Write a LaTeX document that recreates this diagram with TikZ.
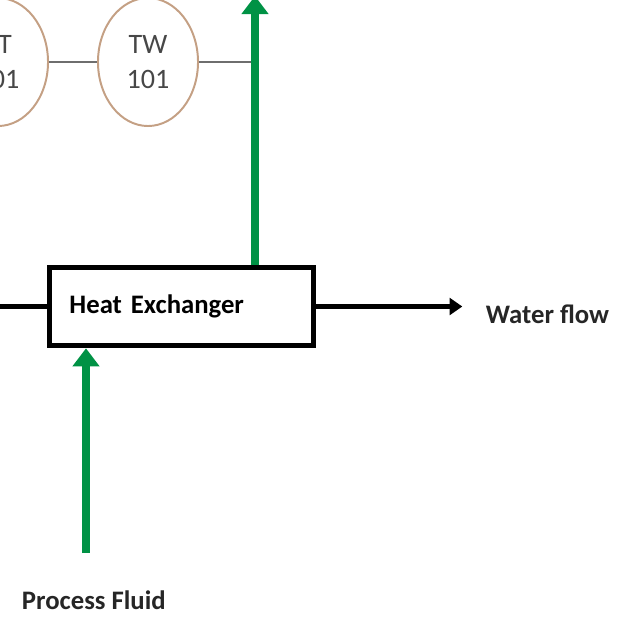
\documentclass[tikz,border=0pt]{standalone}
\usepackage{fontspec}
\setmainfont{Carlito}
\usepackage{xcolor}
\usepackage{tikz}
\usetikzlibrary{arrows.meta,positioning,calc,shapes.geometric}
\definecolor{flowgreen}{RGB}{0,146,69}
\definecolor{ringbrown}{RGB}{196,160,132}
\definecolor{pipegray}{RGB}{110,110,110}

\begin{document}
\begin{tikzpicture}[x=0.025cm, y=-0.025cm, font=\fontsize{19}{23}\selectfont]
\useasboundingbox (0,0) rectangle (640,640);
\clip (0,0) rectangle (640,640);
\tikzset{
  instr/.style={ellipse, draw=ringbrown, line width=1.4pt, minimum width=2.5cm, minimum height=3.2cm, align=center, text=black!72, font=\fontsize{20}{25}\selectfont},
  hxbox/.style={rectangle, draw=black, line width=4pt, minimum width=6.6cm, minimum height=1.95cm, text width=5.6cm, inner xsep=0.5cm, align=left, font=\bfseries\fontsize{19}{23}\selectfont},
  flowlbl/.style={font=\bfseries\fontsize{19}{23}\selectfont, text=black!85},
  flow/.style={draw=flowgreen, line width=5pt, -{Triangle[length=0.45cm, width=0.65cm]}},
  pipe/.style={draw=black, line width=3pt},
  signal/.style={draw=pipegray, line width=2pt}
}
\node[instr] (tt) at (-2,62) {TT\\101};
\node[instr] (tw) at (148,62) {TW\\101};
\node[hxbox] (hx) at (181.5,306.5) {Heat Exchanger};
\node[flowlbl, anchor=west] (water) at (481,314) {Water flow};
\node[flowlbl, anchor=west] (fluid) at (17,600) {Process Fluid};
\coordinate (topout) at (255,-4);
\coordinate (leftin) at (-5,306.5);
\coordinate (fluidin) at (86,553);
\draw[signal] (tt) -- (tw);
\draw[signal] (tw.east) -- (tw.east -| topout);
\draw[flow] (hx.north -| topout) -- (topout);
\draw[flow] (fluidin) -- (fluidin |- hx.south);
\draw[pipe] (leftin) -- (hx.west);
\draw[pipe, -{Triangle[length=0.32cm, width=0.42cm]}] (hx.east) -- ++(146,0);
\end{tikzpicture}
\end{document}
